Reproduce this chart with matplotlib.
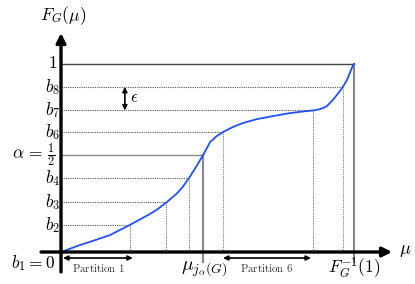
import matplotlib.pyplot as plt

plt.rcParams['mathtext.fontset'] = 'cm'
plt.rcParams['font.family'] = 'serif'

# curve F_G(mu)
mu_curve = [0.000, 0.065, 0.109, 0.167, 0.235, 0.300, 0.330, 0.360, 0.396, 0.415,
            0.437, 0.460, 0.485, 0.509, 0.532, 0.553, 0.587, 0.621, 0.669, 0.724,
            0.782, 0.840, 0.866, 0.884, 0.898, 0.908, 0.928, 0.952, 0.962, 0.976,
            0.997, 1.000]
F_curve = [0.000, 0.037, 0.059, 0.090, 0.144, 0.199, 0.228, 0.264, 0.312, 0.345,
           0.394, 0.450, 0.516, 0.585, 0.617, 0.638, 0.665, 0.686, 0.707, 0.723,
           0.739, 0.750, 0.754, 0.760, 0.768, 0.777, 0.809, 0.856, 0.878, 0.915,
           0.995, 1.000]

# levels b2..b8, 1 and where the curve crosses them
levels = [0.144, 0.264, 0.394, 0.516, 0.638, 0.753, 0.878, 1.000]
level_mu = [0.235, 0.360, 0.437, 0.485, 0.553, 0.860, 0.962, 1.000]
level_labels = ['$b_2$', '$b_3$', '$b_4$', r'$\alpha\,=\,\frac{1}{2}$', '$b_6$',
                '$b_7$', '$b_8$', '$1$']
solid_levels = [3, 7]

fig = plt.figure(figsize=(4.15, 2.84), dpi=100)
ax = fig.add_axes([0, 0, 1, 1])
ax.set_xlim(-0.2082, 1.2082)
ax.set_ylim(-0.1702, 1.3404)
ax.axis('off')

for i, (lv, m, lab) in enumerate(zip(levels, level_mu, level_labels)):
    if i in solid_levels:
        hc = '#444444' if i == 7 else '#888888'
        ax.plot([0, m], [lv, lv], color=hc, lw=1.0, zorder=2)
        ax.plot([m, m], [-0.053, lv], color='#888888', lw=1.5, zorder=2)
    else:
        ax.plot([0, m], [lv, lv], color='#555555', lw=0.8, ls=(0, (1, 1)), zorder=2)
        ax.plot([m, m], [0, lv], color='#777777', lw=0.8, ls=(0, (1, 1)), zorder=2)
    if i == 3:
        ax.text(-0.017, lv, lab, fontsize=12.5, ha='right', va='center')
    else:
        ax.text(-0.03, lv, lab, fontsize=12.5, ha='center', va='center')

ax.plot(mu_curve, F_curve, color='#2050ff', lw=1.3, zorder=3)

# axes with arrows
ax.annotate('', xy=(1.13, 0), xytext=(-0.068, 0),
            arrowprops=dict(arrowstyle='-|>', lw=2.4, color='k', mutation_scale=14,
                            shrinkA=0, shrinkB=0), zorder=4)
ax.annotate('', xy=(0, 1.165), xytext=(0, -0.106),
            arrowprops=dict(arrowstyle='-|>', lw=2.4, color='k', mutation_scale=14,
                            shrinkA=0, shrinkB=0), zorder=4)

ax.text(0.007, 1.255, r'$F_G(\mu)$', fontsize=12.5, ha='center', va='center')
ax.text(1.175, 0.01, r'$\mu$', fontsize=13, ha='center', va='center')
ax.text(-0.02, -0.058, r'$b_1 = 0$', fontsize=12.5, ha='right', va='center')
ax.text(0.487, -0.088, r'$\mu_{j_\alpha(G)}$', fontsize=14, ha='center', va='center')
ax.text(1.0, -0.085, r'$F_G^{-1}(1)$', fontsize=12.5, ha='center', va='center')

# partition arrows
ax.annotate('', xy=(0.007, -0.032), xytext=(0.245, -0.032),
            arrowprops=dict(arrowstyle='<|-|>', lw=1.2, color='k', mutation_scale=7,
                            shrinkA=0, shrinkB=0))
ax.text(0.126, -0.087, r'$\mathrm{Partition\ 1}$', fontsize=7.8, ha='center', va='center',
        color='#333333')
ax.annotate('', xy=(0.553, -0.032), xytext=(0.853, -0.032),
            arrowprops=dict(arrowstyle='<|-|>', lw=1.2, color='k', mutation_scale=7,
                            shrinkA=0, shrinkB=0))
ax.text(0.70, -0.087, r'$\mathrm{Partition\ 6}$', fontsize=7.8, ha='center', va='center',
        color='#333333')

# epsilon arrow
ax.annotate('', xy=(0.218, 0.878), xytext=(0.218, 0.753),
            arrowprops=dict(arrowstyle='<|-|>', lw=1.2, color='k', mutation_scale=7,
                            shrinkA=0, shrinkB=0))
ax.text(0.25, 0.818, r'$\epsilon$', fontsize=12.5, ha='center', va='center')

fig.savefig('out.png', dpi=100)
